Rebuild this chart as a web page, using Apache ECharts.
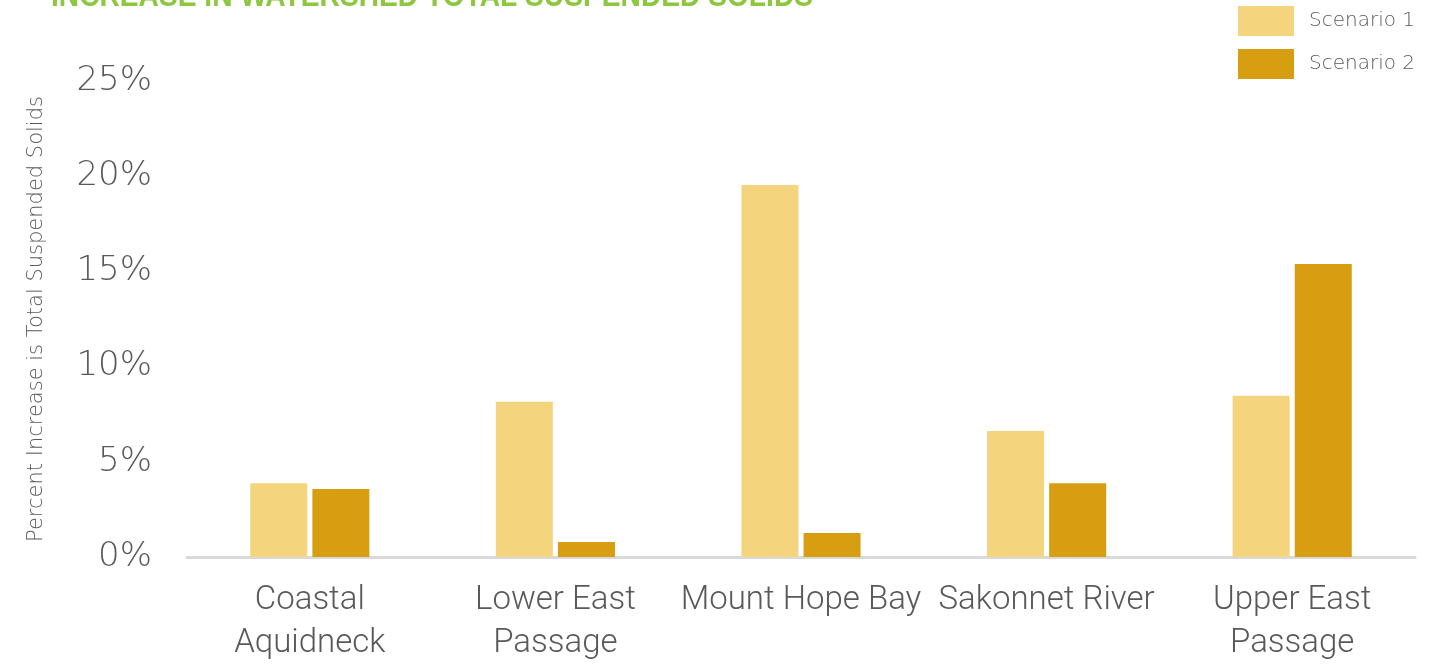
<!DOCTYPE html>
<html>
<head>
<meta charset="utf-8">
<script src="https://cdn.jsdelivr.net/npm/echarts@6/dist/echarts.min.js"></script>
<style>html,body{margin:0;padding:0;background:#fff;}#c{width:1454px;height:664px;}</style>
</head>
<body>
<div id="c"></div>
<script>
const categories = ['Coastal\nAquidneck', 'Lower East\nPassage', 'Mount Hope Bay', 'Sakonnet River', 'Upper East\nPassage'];
const scenario1 = [3.87, 8.16, 19.54, 6.62, 8.47];
const scenario2 = [3.57, 0.79, 1.26, 3.87, 15.39];
const seriesNames = ['Scenario 1', 'Scenario 2'];
const yTicks = [0, 5, 10, 15, 20, 25];
const titleText = 'INCREASE IN WATERSHED TOTAL SUSPENDED SOLIDS';
const yAxisName = 'Percent Increase is Total Suspended Solids';

const titleFont = 'bold 31px "Liberation Sans"';
const cv = document.createElement('canvas').getContext('2d');
cv.font = titleFont;
const titleScale = 762 / cv.measureText(titleText).width;

const chart = echarts.init(document.getElementById('c'));
const font = 'Roboto';
const wide = '"DejaVu Sans"';
chart.setOption({
  backgroundColor: '#ffffff',
  animation: false,
  graphic: [{
    type: 'text',
    x: 51, y: -3,
    scaleX: titleScale,
    style: {
      text: titleText, fill: '#8dc63f', font: titleFont,
      align: 'left', verticalAlign: 'middle'
    }
  }],
  legend: {
    orient: 'vertical',
    left: 1238,
    top: 6,
    padding: 0,
    itemWidth: 56,
    itemHeight: 30,
    itemGap: 13,
    icon: 'rect',
    data: seriesNames,
    textStyle: { color: '#595959', fontFamily: wide, fontWeight: 200, fontSize: 20, padding: [3, 0, 0, 10] }
  },
  grid: { left: 187, right: 39, top: 81, bottom: 107, containLabel: false, outerBoundsMode: 'none' },
  xAxis: {
    type: 'category',
    data: categories,
    axisLine: { show: true, lineStyle: { color: '#d9d9d9', width: 3 } },
    axisTick: { show: false },
    axisLabel: {
      interval: 0, margin: 22, color: '#595959', fontFamily: font, fontWeight: 300,
      fontSize: 33, lineHeight: 43
    }
  },
  yAxis: {
    type: 'value',
    min: yTicks[0],
    max: yTicks[yTicks.length - 1],
    interval: 5,
    name: yAxisName,
    nameLocation: 'middle',
    nameRotate: 90,
    nameGap: 140,
    nameTextStyle: { color: '#595959', fontFamily: wide, fontWeight: 200, fontSize: 21 },
    splitLine: { show: false },
    axisLine: { show: false },
    axisTick: { show: false },
    axisLabel: {
      margin: 35, color: '#595959', fontFamily: wide, fontWeight: 200, fontSize: 34,
      formatter: v => v + '%'
    }
  },
  series: [
    {
      name: seriesNames[0], type: 'bar', data: scenario1, barWidth: 57, barGap: '9%',
      itemStyle: { color: '#f5d47e' }
    },
    {
      name: seriesNames[1], type: 'bar', data: scenario2, barWidth: 57, barGap: '9%',
      itemStyle: { color: '#d79e11' }
    }
  ]
});
</script>
</body>
</html>
